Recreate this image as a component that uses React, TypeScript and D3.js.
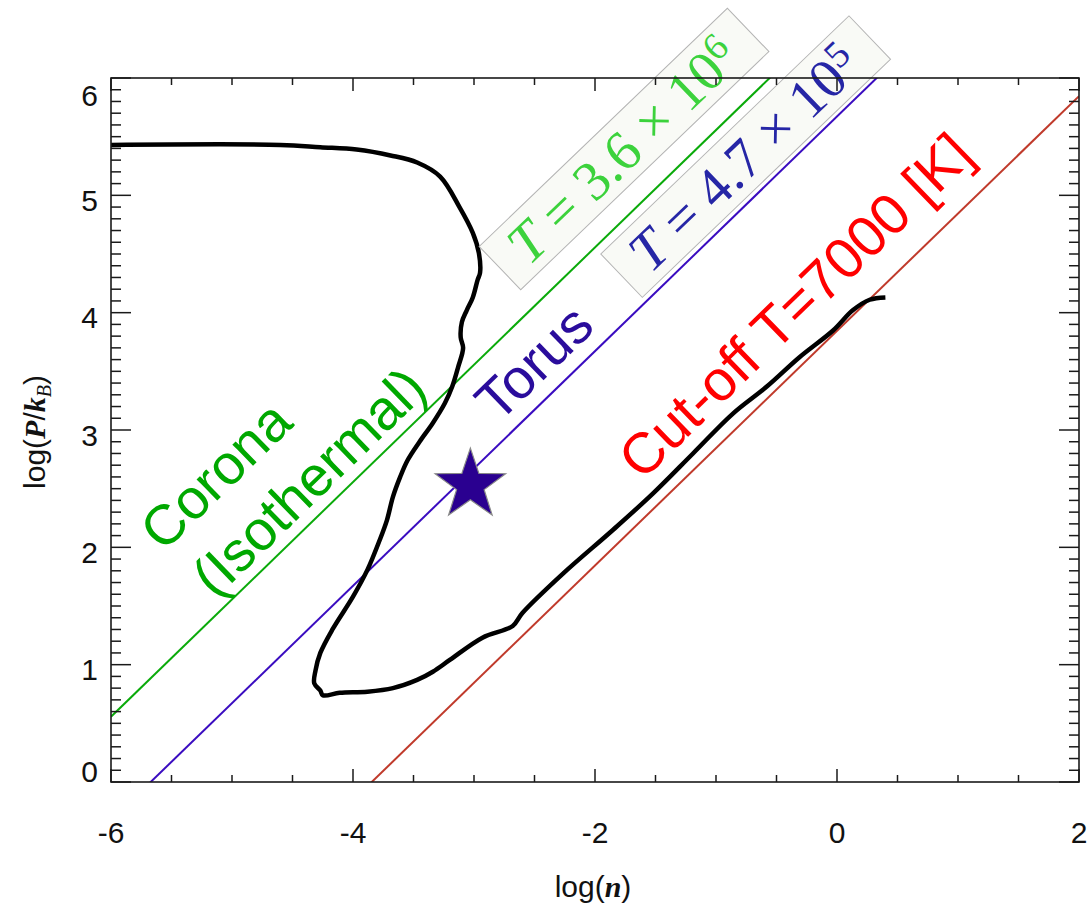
import React from 'react';
import * as d3 from 'd3';

// ---- data ----
const X_TICKS = [-6, -4, -2, 0, 2];
const Y_TICKS = [0, 1, 2, 3, 4, 5, 6];
const ISO_T = [3.6e6, 4.7e5, 7000];
const ISO_COLORS = ['#0aaa0a', '#3a0cc0', '#c03a2b'];

const CURVE_X = [
  -6.0, -4.6, -4.27, -3.97, -3.69, -3.47, -3.28, -3.12, -3.01, -2.96, -2.95, -2.97, -3.01, -3.06,
  -3.1, -3.11, -3.09, -3.13, -3.18, -3.24, -3.34, -3.45, -3.55, -3.61, -3.67, -3.72, -3.78, -3.88,
  -4.0, -4.17, -4.27, -4.31, -4.32, -4.27, -4.25, -4.11, -3.88, -3.67, -3.47, -3.34, -3.2, -2.93,
  -2.68, -2.6, -2.26, -1.85, -1.52, -1.19, -0.86, -0.58, -0.31, -0.03, 0.13, 0.27, 0.4,
];
const CURVE_Y = [
  5.43, 5.43, 5.41, 5.39, 5.34, 5.28, 5.16, 4.9, 4.68, 4.51, 4.34, 4.28, 4.13, 4.02,
  3.92, 3.79, 3.7, 3.54, 3.37, 3.23, 3.06, 2.9, 2.74, 2.6, 2.43, 2.23, 2.06, 1.81,
  1.58, 1.3, 1.1, 0.95, 0.84, 0.78, 0.74, 0.76, 0.77, 0.8, 0.87, 0.94, 1.04, 1.23,
  1.33, 1.44, 1.78, 2.15, 2.46, 2.8, 3.14, 3.37, 3.62, 3.85, 4.02, 4.11, 4.13,
];
const STAR_X = [-3.03];
const STAR_Y = [2.53];

// annotation labels (data coordinates of their centres)
const REGION_LABELS = ['Corona', '(Isothermal)', 'Torus', 'Cut-off T=7000 [K]'];
const REGION_X = [-5.14, -4.37, -2.51, -0.35];
const REGION_Y = [2.62, 2.565, 3.58, 4.065];
const REGION_COLORS = ['#00a800', '#00a800', '#2a0c9c', '#ff0000'];

const BOX_MANT = ['3.6', '4.7'];
const BOX_EXP = ['6', '5'];
const BOX_X = [-1.76, -0.755];
const BOX_Y = [5.395, 5.33];
const BOX_COLORS = ['#3cd23c', '#2626a6'];

const W = 1089;
const H = 903;
const M = { left: 111, right: 1079, top: 78, bottom: 782 };

export default function App() {
  const x = d3.scaleLinear().domain([-6, 2]).range([M.left, M.right]);
  const y = d3.scaleLinear().domain([0, 6]).range([M.bottom, M.top]);
  const ang = (-Math.atan2(y(0) - y(1), x(1) - x(0)) * 180) / Math.PI;

  const line = d3
    .line<number>()
    .x((_, i) => x(CURVE_X[i]))
    .y((_, i) => y(CURVE_Y[i]))
    .curve(d3.curveCatmullRom.alpha(0.5));

  const xMinor = d3.range(-6, 2.0001, 0.5).filter((v) => Math.abs(v - Math.round(v / 2) * 2) > 1e-6);
  const yMinor = d3.range(0, 6.0001, 0.1).filter((v) => Math.abs(v - Math.round(v)) > 1e-6);

  const starPath = (cx: number, cy: number, R: number, r: number) => {
    const pts: [number, number][] = [];
    for (let k = 0; k < 10; k++) {
      const a = -Math.PI / 2 + (k * Math.PI) / 5;
      const rad = k % 2 === 0 ? R : r;
      pts.push([cx + rad * Math.cos(a), cy + rad * Math.sin(a)]);
    }
    return 'M' + pts.map((p) => p.join(',')).join('L') + 'Z';
  };

  const sans = 'Liberation Sans, Arial, Helvetica, sans-serif';
  const serif = 'Liberation Serif, Times New Roman, serif';

  return (
    <svg width={W} height={H} style={{ position: 'absolute', left: 0, top: 0, background: '#fff' }}>
      <defs>
        <clipPath id="plotclip">
          <rect x={M.left} y={M.top} width={M.right - M.left} height={M.bottom - M.top} />
        </clipPath>
      </defs>
      <rect x={0} y={0} width={W} height={H} fill="#fff" />

      {/* isotherm lines */}
      <g clipPath="url(#plotclip)">
        {ISO_T.map((T, i) => {
          const lt = Math.log10(T);
          return (
            <line
              key={i}
              x1={x(-6)}
              y1={y(-6 + lt)}
              x2={x(2)}
              y2={y(2 + lt)}
              stroke={ISO_COLORS[i]}
              strokeWidth={2}
            />
          );
        })}
        <path d={line(CURVE_X) || ''} fill="none" stroke="#000" strokeWidth={4.5} strokeLinejoin="round" />
      </g>

      {/* star */}
      {STAR_X.map((sx, i) => (
        <path key={i} d={starPath(x(sx), y(STAR_Y[i]), 37, 14.5)} fill="#2a0090" stroke="#888" strokeWidth={1.2} />
      ))}

      {/* region labels */}
      {REGION_LABELS.map((t, i) => (
        <text
          key={t}
          transform={`translate(${x(REGION_X[i])},${y(REGION_Y[i])}) rotate(${ang})`}
          textAnchor="middle"
          dy="0.36em"
          fontFamily={sans}
          fontSize={i === 3 ? 57 : 56}
          fill={REGION_COLORS[i]}
        >
          {t}
        </text>
      ))}

      {/* temperature boxes */}
      {BOX_MANT.map((m, i) => (
        <g key={m} transform={`translate(${x(BOX_X[i])},${y(BOX_Y[i])}) rotate(${ang + 0.3})`}>
          <rect x={-172} y={-30} width={344} height={60} fill="#f9faf6" stroke="#b4b4b4" strokeWidth={1} />
          <text
            x={-150}
            dy="0.34em"
            fontFamily={serif}
            fontSize={56}
            fill={BOX_COLORS[i]}
            textLength={296}
            lengthAdjust="spacing"
          >
            <tspan fontStyle="italic">T</tspan>
            {` = ${m} × 10`}
            <tspan dy="-0.45em" fontSize={38}>
              {BOX_EXP[i]}
            </tspan>
          </text>
        </g>
      ))}

      {/* frame */}
      <rect
        x={M.left}
        y={M.top}
        width={M.right - M.left}
        height={M.bottom - M.top}
        fill="none"
        stroke="#1a1a1a"
        strokeWidth={1.6}
      />

      {/* ticks */}
      <g stroke="#1a1a1a" strokeWidth={1.5}>
        {X_TICKS.map((v) => (
          <g key={'xm' + v}>
            <line x1={x(v)} x2={x(v)} y1={M.bottom} y2={M.bottom - 13} />
            <line x1={x(v)} x2={x(v)} y1={M.top} y2={M.top + 13} />
          </g>
        ))}
        {xMinor.map((v) => (
          <g key={'xn' + v}>
            <line x1={x(v)} x2={x(v)} y1={M.bottom} y2={M.bottom - 7} />
            <line x1={x(v)} x2={x(v)} y1={M.top} y2={M.top + 7} />
          </g>
        ))}
        {Y_TICKS.map((v) => (
          <g key={'ym' + v}>
            <line x1={M.left} x2={M.left + 20} y1={y(v)} y2={y(v)} />
            <line x1={M.right} x2={M.right - 20} y1={y(v)} y2={y(v)} />
          </g>
        ))}
        {yMinor.map((v) => (
          <g key={'yn' + v.toFixed(1)}>
            <line x1={M.left} x2={M.left + 10} y1={y(v)} y2={y(v)} />
            <line x1={M.right} x2={M.right - 10} y1={y(v)} y2={y(v)} />
          </g>
        ))}
      </g>

      {/* tick labels */}
      {X_TICKS.map((v) => (
        <text key={'xl' + v} x={x(v)} y={843} textAnchor="middle" fontFamily={sans} fontSize={30} fill="#111">
          {v < 0 ? '-' + Math.abs(v) : String(v)}
        </text>
      ))}
      {Y_TICKS.map((v) => {
        const half = 11;
        let cy = y(v) + 5;
        cy = Math.max(cy, M.top + 6 + half);
        cy = Math.min(cy, M.bottom - half);
        return (
          <text key={'yl' + v} x={98} y={cy} dy="0.36em" textAnchor="end" fontFamily={sans} fontSize={30} fill="#111">
            {String(v)}
          </text>
        );
      })}

      {/* axis titles */}
      <text x={593} y={897} textAnchor="middle" fontFamily={sans} fontSize={30} fill="#111">
        log(
        <tspan fontFamily={serif} fontStyle="italic" fontWeight="bold">
          n
        </tspan>
        )
      </text>
      <text
        transform="translate(45,432) rotate(-90)"
        textAnchor="middle"
        fontFamily={sans}
        fontSize={30}
        fill="#111"
      >
        log(
        <tspan fontFamily={serif} fontStyle="italic" fontWeight="bold">
          P
        </tspan>
        /
        <tspan fontFamily={serif} fontStyle="italic" fontWeight="bold">
          k
        </tspan>
        <tspan fontFamily={serif} fontStyle="italic" fontSize={20} dy="6">
          B
        </tspan>
        <tspan dy="-6">)</tspan>
      </text>
    </svg>
  );
}
